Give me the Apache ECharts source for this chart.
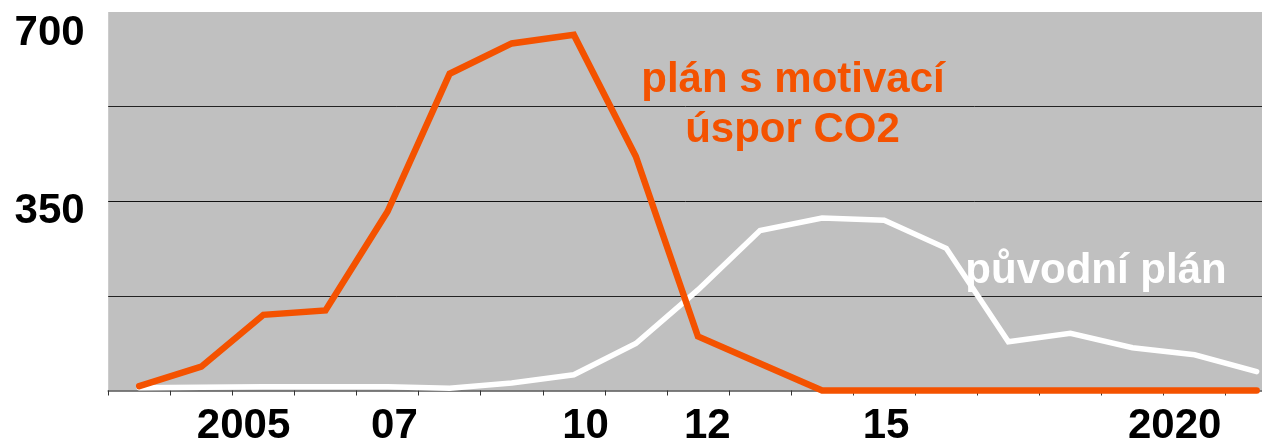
<!DOCTYPE html>
<html>
<head>
<meta charset="utf-8">
<script src="https://cdn.jsdelivr.net/npm/echarts@6/dist/echarts.min.js"></script>
<style>
  html, body { margin: 0; padding: 0; background: #ffffff; }
  #chart { width: 1262px; height: 442px; }
</style>
</head>
<body>
<div id="chart"></div>
<script>
// ---- data ----
const planCO2      = [8, 44, 140, 148, 331, 586, 642, 658, 433, 100, 50, 0, 0, 0, 0, 0, 0, 0, 0];
const originalPlan = [5, 6, 7, 7, 7, 4, 14, 29, 87, 186, 296, 319, 315, 263, 90, 106, 79, 66, 35];
const xTickLabels  = ['2005', '07', '10', '12', '15', '2020'];
const xTickLabelAt = [2.18, 4.61, 7.69, 9.65, 12.53, 17.18];   // in period units along the axis
const yTickLabels  = [350, 700];
const seriesNames  = ['původní plán', 'plán s motivací úspor CO2'];

const FONT = '"Liberation Sans", Arial, sans-serif';
const ORANGE = '#F45200';
const periods = planCO2.length;
const boundaries = Array.from({ length: periods + 1 }, (_, i) => i);

const chart = echarts.init(document.getElementById('chart'), null, { renderer: 'canvas' });

chart.setOption({
  animation: false,
  backgroundColor: '#ffffff',
  grid: {
    left: 108.2, top: 12.1, right: -25.7, bottom: 51.5,
    show: true, backgroundColor: '#C0C0C0', borderWidth: 0,
    containLabel: false, outerBoundsMode: 'none'
  },
  xAxis: {
    type: 'value', min: 0, max: periods,
    axisLine: { show: true, onZero: false, lineStyle: { color: '#555555', width: 1.5 } },
    axisTick: { show: true, customValues: boundaries, length: 5, lineStyle: { color: '#333333', width: 1 } },
    splitLine: { show: false },
    axisLabel: {
      show: true,
      customValues: xTickLabelAt,
      formatter: function (v) {
        const k = xTickLabelAt.findIndex(p => Math.abs(p - v) < 1e-6);
        return k >= 0 ? xTickLabels[k] : '';
      },
      color: '#000000', fontFamily: FONT, fontWeight: 'bold', fontSize: 42,
      verticalAlign: 'middle', margin: 35.5
    }
  },
  yAxis: {
    type: 'value', min: 0, max: 700, interval: 175,
    axisLine: { show: false },
    axisTick: { show: false },
    splitLine: {
      show: true,
      lineStyle: { color: ['rgba(0,0,0,0)', '#222222', '#111111', '#222222', 'rgba(0,0,0,0)'], width: 1 }
    },
    axisLabel: {
      show: true,
      margin: 23.5,
      align: 'right',
      verticalAlign: 'middle',
      formatter: function (v) {
        if (v === yTickLabels[1]) return '{a|' + v + '}';
        if (v === yTickLabels[0]) return '{b|' + v + '}';
        return '';
      },
      rich: {
        a: { color: '#000', fontFamily: FONT, fontWeight: 'bold', fontSize: 42, padding: [42, 0, 0, 0] },
        b: { color: '#000', fontFamily: FONT, fontWeight: 'bold', fontSize: 42, padding: [21, 0, 0, 0] }
      }
    }
  },
  series: [
    {
      name: seriesNames[0],
      type: 'line',
      data: originalPlan.map((v, i) => [i + 0.5, v]),
      symbol: 'none', showSymbol: false, clip: false, silent: true,
      lineStyle: { color: '#FFFFFF', width: 5.5, cap: 'round', join: 'miter' },
      z: 2
    },
    {
      name: seriesNames[1],
      type: 'line',
      data: planCO2.map((v, i) => [i + 0.5, v]),
      symbol: 'none', showSymbol: false, clip: false, silent: true,
      lineStyle: { color: ORANGE, width: 6.5, cap: 'round', join: 'miter' },
      z: 3
    }
  ],
  graphic: [
    { type: 'text', x: 793, y: 80, z: 10,
      style: { text: 'plán s motivací', fill: ORANGE, font: 'bold 42px ' + FONT, align: 'center', verticalAlign: 'middle' } },
    { type: 'text', x: 792.5, y: 130, z: 10,
      style: { text: 'úspor CO2', fill: ORANGE, font: 'bold 42px ' + FONT, align: 'center', verticalAlign: 'middle' } },
    { type: 'text', x: 1096, y: 271, z: 10,
      style: { text: 'původní plán', fill: '#FFFFFF', font: 'bold 42px ' + FONT, align: 'center', verticalAlign: 'middle' } }
  ]
});
</script>
</body>
</html>
